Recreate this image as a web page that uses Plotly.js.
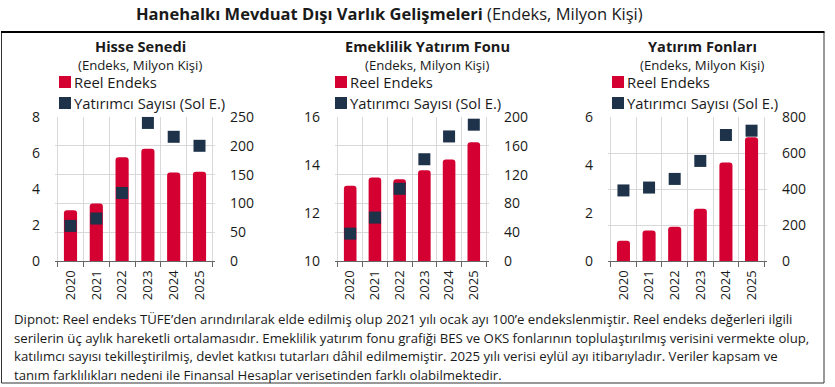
<!DOCTYPE html>
<html>
<head>
<meta charset="utf-8">
<script src="https://cdn.plot.ly/plotly-3.0.1.min.js"></script>
<style>html,body{margin:0;padding:0;background:#fff;}#chart{width:835px;height:387px;}</style>
</head>
<body>
<div id="chart"></div>
<script>
// ---- data ----
const years = ['2020', '2021', '2022', '2023', '2024', '2025'];
const panelTitles = ['Hisse Senedi', 'Emeklilik Yatırım Fonu', 'Yatırım Fonları'];
const unitLabel = '(Endeks, Milyon Kişi)';
const indexName = 'Reel Endeks';
const investorName = 'Yatırımcı Sayısı (Sol E.)';
const hisseIndex = [88, 100, 180, 195, 153.5, 155];
const hisseInvestors = [1.95, 2.36, 3.78, 7.67, 6.9, 6.4];
const emekIndex = [104.5, 116, 113.5, 126, 141, 165];
const emekInvestors = [11.14, 11.81, 13.01, 14.24, 15.19, 15.68];
const fonIndex = [112, 169, 190, 290, 547, 688];
const fonInvestors = [2.94, 3.06, 3.42, 4.17, 5.25, 5.43];
const mainTitle = '<b>Hanehalkı Mevduat Dışı Varlık Gelişmeleri</b> (Endeks, Milyon Kişi)';
const footnote = [
  'Dipnot: Reel endeks TÜFE’den arındırılarak elde edilmiş olup 2021 yılı ocak ayı 100’e endekslenmiştir. Reel endeks değerleri ilgili',
  'serilerin üç aylık hareketli ortalamasıdır. Emeklilik yatırım fonu grafiği BES ve OKS fonlarının toplulaştırılmış verisini vermekte olup,',
  'katılımcı sayısı tekilleştirilmiş, devlet katkısı tutarları dâhil edilmemiştir. 2025 yılı verisi eylül ayı itibarıyladır. Veriler kapsam ve',
  'tanım farklılıkları nedeni ile Finansal Hesaplar verisetinden farklı olabilmektedir.'
];

// ---- styling ----
const W = 835, H = 387;
const px = v => v / W;
const py = v => 1 - v / H;
const RED = '#d40032';
const NAVY = '#1e3249';
const TXT = '#1a1a1a';
const GRID = '#d9d9d9';
const FONT = 'Open Sans, sans-serif';

const panels = [
  {idx: hisseIndex, inv: hisseInvestors, x0: 55, x1: 215, r: [0, 250], rd: 50, l: [0, 8], ld: 2, cx: 140, lx: 59},
  {idx: emekIndex, inv: emekInvestors, x0: 335, x1: 489, r: [0, 200], rd: 40, l: [10, 16], ld: 2, cx: 427, lx: 335},
  {idx: fonIndex, inv: fonInvestors, x0: 608, x1: 767, r: [0, 800], rd: 200, l: [0, 6], ld: 2, cx: 702, lx: 612}
];
const plotTop = 117, plotBot = 261;

const data = [];
const layout = {
  width: W, height: H,
  margin: {l: 0, r: 0, t: 0, b: 0},
  paper_bgcolor: '#fff', plot_bgcolor: '#fff',
  showlegend: false,
  bargap: 0.49,
  font: {family: FONT, color: TXT},
  annotations: [], shapes: []
};

panels.forEach((p, i) => {
  const n = i + 1;
  const xa = n === 1 ? 'x' : 'x' + n;
  const yR = 'y' + (2 * i + 1 === 1 ? '' : 2 * i + 1);
  const yL = 'y' + (2 * i + 2);
  const xKey = 'xaxis' + (n === 1 ? '' : n);
  const yRKey = 'yaxis' + (2 * i + 1 === 1 ? '' : 2 * i + 1);
  const yLKey = 'yaxis' + (2 * i + 2);

  data.push({
    type: 'bar', x: years, y: p.idx, name: indexName,
    xaxis: xa, yaxis: yR,
    marker: {color: RED, cornerradius: 3, line: {width: 0}},
    hoverinfo: 'x+y'
  });
  data.push({
    type: 'scatter', mode: 'markers', x: years, y: p.inv, name: investorName,
    xaxis: xa, yaxis: yL,
    marker: {color: NAVY, symbol: 'square', size: 12, line: {width: 0}},
    cliponaxis: false
  });

  layout[xKey] = {
    domain: [px(p.x0), px(p.x1)], anchor: yR, type: 'category',
    tickson: 'boundaries', ticks: 'outside', ticklen: 5, tickcolor: '#666',
    showline: true, linecolor: '#666', linewidth: 1.2,
    showgrid: true, gridcolor: GRID, gridwidth: 1,
    tickangle: -90, tickfont: {size: 13, color: TXT, family: FONT},
    ticklabelstandoff: 3, fixedrange: true
  };
  layout[yRKey] = {
    domain: [py(plotBot), py(plotTop)], anchor: xa, side: 'right',
    range: p.r, dtick: p.rd, tick0: 0,
    showgrid: true, gridcolor: GRID, gridwidth: 1, zeroline: false,
    showline: false, ticks: '', ticklabelstandoff: 14,
    tickfont: {size: 14, color: TXT, family: FONT}, fixedrange: true
  };
  layout[yLKey] = {
    overlaying: yR, anchor: xa, side: 'left',
    range: p.l, dtick: p.ld, tick0: 0,
    showgrid: false, zeroline: false, showline: false, ticks: '',
    ticklabelstandoff: 14,
    tickfont: {size: 14, color: TXT, family: FONT}, fixedrange: true
  };

  // panel titles
  layout.annotations.push({
    xref: 'paper', yref: 'paper', x: px(p.cx), y: py(46), xanchor: 'center', yanchor: 'middle',
    text: '<b>' + panelTitles[i] + '</b>', showarrow: false, font: {size: 14.6, color: TXT, family: FONT}
  });
  layout.annotations.push({
    xref: 'paper', yref: 'paper', x: px(p.cx), y: py(65), xanchor: 'center', yanchor: 'middle',
    text: unitLabel, showarrow: false, font: {size: 13.2, color: TXT, family: FONT}
  });
  // legend (manual)
  [[RED, indexName, 82], [NAVY, investorName, 103]].forEach(([c, t, cy]) => {
    layout.shapes.push({
      type: 'rect', xref: 'paper', yref: 'paper',
      x0: px(p.lx), x1: px(p.lx + 12), y0: py(cy + 6), y1: py(cy - 6),
      fillcolor: c, line: {width: 0}
    });
    layout.annotations.push({
      xref: 'paper', yref: 'paper', x: px(p.lx + 13), y: py(cy), xanchor: 'left', yanchor: 'middle',
      text: t, showarrow: false, font: {size: 14.8, color: TXT, family: FONT}
    });
  });
});

// main title
layout.annotations.push({
  xref: 'paper', yref: 'paper', x: px(389), y: py(13), xanchor: 'center', yanchor: 'middle',
  text: mainTitle, showarrow: false, font: {size: 16.5, color: TXT, family: FONT}
});
// footnote
footnote.forEach((line, k) => {
  layout.annotations.push({
    xref: 'paper', yref: 'paper', x: px(12), y: py(319 + k * 18.5), xanchor: 'left', yanchor: 'middle',
    text: line, showarrow: false, font: {size: 13.2, color: TXT, family: FONT}
  });
});
// frame and rule
layout.shapes.push({type: 'rect', xref: 'paper', yref: 'paper', x0: px(1.5), x1: px(824), y0: py(383), y1: py(32),
  line: {color: '#333', width: 1}, fillcolor: 'rgba(0,0,0,0)'});
layout.shapes.push({type: 'line', xref: 'paper', yref: 'paper', x0: px(1), x1: px(824.5), y0: py(32), y1: py(32),
  line: {color: '#000', width: 2}});

Plotly.newPlot('chart', data, layout, {displayModeBar: false, staticPlot: true});
</script>
</body>
</html>
